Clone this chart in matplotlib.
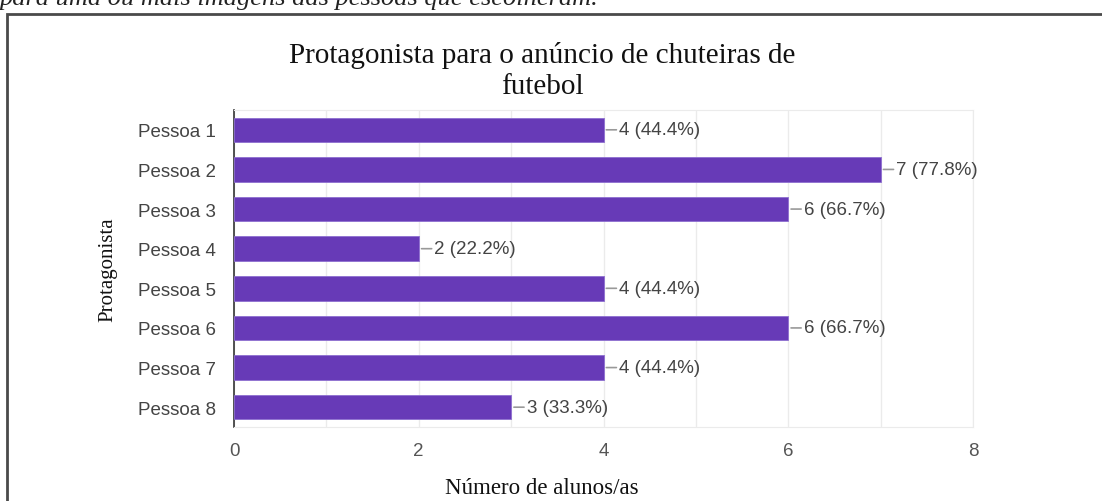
import numpy as np
import matplotlib.pyplot as plt
from matplotlib.patches import Rectangle

# dados
pessoas = ["Pessoa 1", "Pessoa 2", "Pessoa 3", "Pessoa 4",
           "Pessoa 5", "Pessoa 6", "Pessoa 7", "Pessoa 8"]
votos = [4, 7, 6, 2, 4, 6, 4, 3]
total = 9
xticks = [0, 2, 4, 6, 8]

roxo = "#673ab7"
cinza_txt = "#444444"

fig = plt.figure(figsize=(11.02, 5.02), dpi=100)

# texto cortado do documento acima da figura
fig.text(0.0, 1 - 5/502, "para uma ou mais imagens das pessoas que escolheram.",
         family="Liberation Serif", style="italic", fontsize=19,
         va="baseline", ha="left", color="#222222")

# moldura do documento
fig.patches.append(Rectangle((7/1102, -0.1), 1.2, 1 - 15/502 + 0.1, transform=fig.transFigure,
                             fill=False, edgecolor="#4a4a4a", linewidth=2))

ax = fig.add_axes([234/1102, 1 - 428/502, 739/1102, 317/502])

y = np.arange(len(pessoas))
ax.barh(y, votos, height=0.62, color=roxo, edgecolor="#8e6fd0", linewidth=0.6, zorder=3)

for i, v in enumerate(votos):
    ax.annotate("", xy=(v, i), xytext=(v + 0.17, i),
                arrowprops=dict(arrowstyle="-", color="#999999", lw=1.2))
    ax.text(v + 0.17, i, "%d (%.1f%%)" % (v, 100 * v / total), va="center", ha="left",
            family="Liberation Sans", fontsize=13.5, color=cinza_txt)

ax.set_xlim(0, 8)
ax.set_ylim(len(pessoas) - 0.5, -0.5)
ax.set_yticks(y)
ax.set_yticklabels(pessoas, family="Liberation Sans", fontsize=13.5, color=cinza_txt)
ax.set_xticks(xticks)
ax.set_xticks(np.arange(0, 9), minor=True)
ax.set_xticklabels([str(t) for t in xticks], family="Liberation Sans", fontsize=13.5, color="#555555")
ax.tick_params(axis="both", length=0, pad=11)
ax.tick_params(axis="y", pad=13)
ax.tick_params(axis="x", which="minor", length=0)
ax.grid(axis="x", which="both", color="#ebebeb", linewidth=1, zorder=0)

for s in ["top", "right", "bottom"]:
    ax.spines[s].set_color("#ebebeb")
ax.spines["left"].set_color("#333333")
ax.spines["left"].set_linewidth(1.2)

fig.text(542/1102, 1 - 71/502, "Protagonista para o anúncio de chuteiras de\nfutebol",
         family="Liberation Serif", fontsize=21, ha="center", va="center",
         linespacing=1.22, color="#111111")
fig.text(108/1102, 1 - 270/502, "Protagonista", family="Liberation Serif", fontsize=15,
         rotation=90, ha="center", va="center", color="#111111")
fig.text(542/1102, 1 - 489/502, "Número de alunos/as", family="Liberation Serif", fontsize=16.5,
         ha="center", va="center", color="#111111")

fig.savefig("out.png", dpi=100)
